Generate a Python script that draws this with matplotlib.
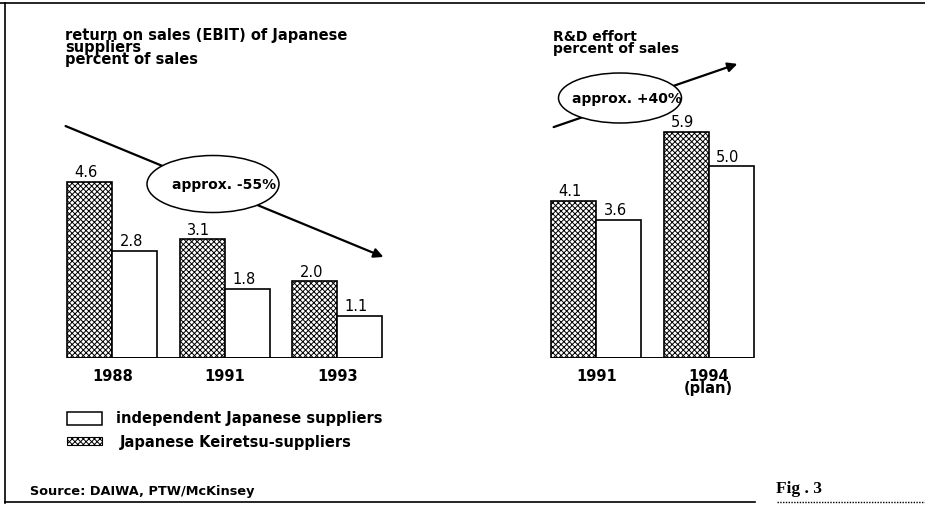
import matplotlib.pyplot as plt
from matplotlib.patches import Ellipse, Rectangle

plt.rcParams['font.family'] = ['DejaVu Sans']
plt.rcParams['hatch.linewidth'] = 0.7

# left chart: return on sales
ros_years = ['1988', '1991', '1993']
ros_keiretsu = [4.6, 3.1, 2.0]
ros_independent = [2.8, 1.8, 1.1]

# right chart: R&D effort
rd_years = ['1991', '1994\n(plan)']
rd_keiretsu = [4.1, 5.9]
rd_independent = [3.6, 5.0]

W, H = 925, 505
fig = plt.figure(figsize=(W / 100, H / 100), dpi=100)

bw = 0.4
hatch_kw = dict(facecolor='white', edgecolor='black', hatch='xxxxxx', linewidth=1.2)
plain_kw = dict(facecolor='white', edgecolor='black', linewidth=1.2)
txt = dict(fontsize=10, fontweight='bold')
big = dict(fontsize=10.5, fontweight='bold')


def bar_panel(left_px, years, kei, ind):
    n = len(years)
    ax = fig.add_axes([left_px / W, 147 / H, (n * 112.5) / W, 230 / H])
    xs = list(range(n))
    ax.bar([x - bw / 2 for x in xs], kei, width=bw, **hatch_kw)
    ax.bar([x + bw / 2 for x in xs], ind, width=bw, **plain_kw)
    ax.hlines(0, -bw, n - 1 + bw, color='black', lw=1.4)
    for x, v in zip(xs, kei):
        ax.text(x - bw / 2 - 0.03, v + 0.04, f'{v:.1f}', ha='center', va='bottom', fontsize=10.5)
    for x, v in zip(xs, ind):
        ax.text(x + bw / 2 - 0.03, v + 0.04, f'{v:.1f}', ha='center', va='bottom', fontsize=10.5)
    for x, y in zip(xs, years):
        ax.text(x, -0.28, y, ha='center', va='top', fontsize=10.5, fontweight='bold',
                linespacing=0.75)
    ax.set_xlim(-0.5, n - 0.5)
    ax.set_ylim(0, 6)
    ax.axis('off')
    return ax


bar_panel(56, ros_years, ros_keiretsu, ros_independent)
bar_panel(540, rd_years, rd_keiretsu, rd_independent)

# overlay in pixel coordinates for annotations
ov = fig.add_axes([0, 0, 1, 1], zorder=5)
ov.set_xlim(0, W)
ov.set_ylim(H, 0)
ov.axis('off')
ov.patch.set_alpha(0)

# titles
for i, line in enumerate(['return on sales (EBIT) of Japanese', 'suppliers', 'percent of sales']):
    ov.text(65, 40 + i * 12, line, va='baseline', **big)
for i, line in enumerate(['R&D effort', 'percent of sales']):
    ov.text(553, 41 + i * 12, line, va='baseline', **txt)

# trend arrows
ov.annotate('', xy=(386, 258), xytext=(63, 125),
            arrowprops=dict(arrowstyle='-|>', lw=1.6, color='black', mutation_scale=14))
ov.annotate('', xy=(740, 63), xytext=(551, 128),
            arrowprops=dict(arrowstyle='-|>', lw=1.6, color='black', mutation_scale=14))
ov.add_patch(Ellipse((213, 184), 132, 57, facecolor='white', edgecolor='black', lw=1.1, zorder=3))
ov.text(224, 185, 'approx. -55%', ha='center', va='center', zorder=4, **txt)
ov.add_patch(Ellipse((620, 98), 123, 50, facecolor='white', edgecolor='black', lw=1.1, zorder=3))
ov.text(627, 99, 'approx. +40%', ha='center', va='center', zorder=4, **txt)

# legend
ov.add_patch(Rectangle((67, 412), 35, 13, facecolor='white', edgecolor='black', lw=1.1))
ov.text(116, 419, 'independent Japanese suppliers', va='center', **big)
ov.add_patch(Rectangle((67, 437), 35, 8, facecolor='white', edgecolor='black', lw=0.8, hatch='xxxxxx'))
ov.text(120, 442, 'Japanese Keiretsu-suppliers', va='center', **big)

# footer
ov.text(30, 491, 'Source: DAIWA, PTW/McKinsey', fontsize=9.3, fontweight='bold', va='center')
ov.text(776, 489, 'Fig . 3', fontsize=12.5, fontweight='bold', va='center', family='Liberation Serif')

# frame
ov.plot([0, W], [3, 3], color='black', lw=1.2)
ov.plot([5, 5], [3, 503], color='black', lw=1.2)
ov.plot([5, 755], [502, 502], color='black', lw=1.2)
ov.plot([777, W], [502, 502], color='black', lw=1.0, ls=(0, (1, 1)))

fig.savefig('out.png', dpi=100)
